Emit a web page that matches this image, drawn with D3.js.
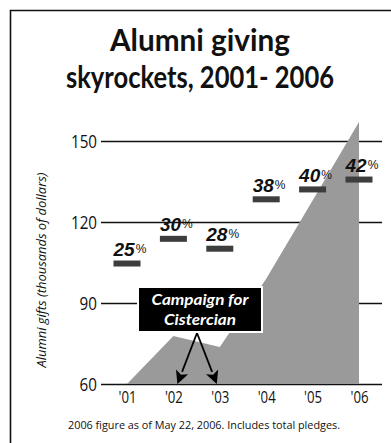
<!DOCTYPE html>
<html>
<head>
<meta charset="utf-8">
<script src="https://cdn.jsdelivr.net/npm/d3@7"></script>
<style>
  html, body { margin: 0; padding: 0; background: #fff; }
  svg { display: block; }
</style>
</head>
<body>
<svg id="chart" width="391" height="443"></svg>
<script>
// Years, tick labels and the two series
const years = [2001, 2002, 2003, 2004, 2005, 2006];
const yearLabels = ["'01", "'02", "'03", "'04", "'05", "'06"];
const gifts = [60, 77.8, 73.7, 99, 128, 157];          // thousands of dollars
const participation = [25, 30, 28, 38, 40, 42];         // percent of alumni giving
const giftTicks = [60, 90, 120, 150];
const titleLines = ["Alumni giving", "skyrockets, 2001- 2006"];
const calloutLines = ["Campaign for", "Cistercian"];
const calloutYears = [2002, 2003];
const axisTitle = "Alumni gifts (thousands of dollars)";
const footnote = "2006 figure as of May 22, 2006. Includes total pledges.";

const svg = d3.select("#chart");
const FONT = '"Open Sans", "Noto Sans", "DejaVu Sans", sans-serif';
const TITLE_FONT = 'Lato, "Open Sans", "DejaVu Sans", sans-serif';

// Squeeze text horizontally to a condensed look (fixed width or a factor)
function fitWidth(sel, w) {
  sel.attr("textLength", w).attr("lengthAdjust", "spacingAndGlyphs");
}
function condense(sel, f) {
  sel.each(function () {
    const w = this.getComputedTextLength();
    this.setAttribute("textLength", w * f);
    this.setAttribute("lengthAdjust", "spacingAndGlyphs");
  });
}

// Frame along the top and left edges
svg.append("path")
  .attr("d", "M10.5,443V10.5H391")
  .attr("fill", "none").attr("stroke", "#111").attr("stroke-width", 1.6);

// Title
const titleWidths = [180, 268];
svg.append("g").selectAll("text").data(titleLines).join("text")
  .attr("x", 200).attr("y", (d, i) => 51 + i * 36.5)
  .attr("text-anchor", "middle")
  .attr("font-family", TITLE_FONT).attr("font-weight", "bold").attr("font-size", 30)
  .attr("fill", "#111")
  .text(d => d)
  .each(function (d, i) { fitWidth(d3.select(this), titleWidths[i]); });

// Scales
const x = d3.scaleLinear().domain([2001, 2006]).range([127, 359]);
const y = d3.scaleLinear().domain([60, 150]).range([384, 141]);
const pct = d3.scaleLinear().domain([0, 49.2]).range([384, 141]);
const gridLeft = 101, gridRight = 382;

// Horizontal grid lines with value labels
const yAxis = svg.append("g")
  .attr("transform", `translate(${gridLeft},0)`)
  .call(d3.axisLeft(y).tickValues(giftTicks).tickSize(-(gridRight - gridLeft)).tickPadding(4));
yAxis.select(".domain").remove();
yAxis.selectAll(".tick line").attr("stroke", "#111").attr("stroke-width", 1.3);
yAxis.selectAll(".tick text")
  .attr("font-family", FONT).attr("font-size", 19).attr("fill", "#111")
  .call(condense, 0.8);

// Year labels
const xAxis = svg.append("g")
  .attr("transform", `translate(0,${y(60)})`)
  .call(d3.axisBottom(x).tickValues(years).tickFormat((d, i) => yearLabels[i]).tickSize(0).tickPadding(7));
xAxis.select(".domain").remove();
xAxis.selectAll(".tick text")
  .attr("font-family", FONT).attr("font-size", 16.5).attr("fill", "#111")
  .call(condense, 0.8);

// Vertical axis title
svg.append("text")
  .attr("transform", "translate(46,270) rotate(-90)")
  .attr("text-anchor", "middle")
  .attr("font-family", FONT).attr("font-style", "italic").attr("font-size", 13.5)
  .attr("fill", "#111")
  .text(axisTitle)
  .call(fitWidth, 195);

// Gift totals as a gray area
const area = d3.area()
  .x((d, i) => x(years[i]))
  .y0(y(60))
  .y1(d => y(d));
svg.append("path")
  .datum(gifts)
  .attr("d", area)
  .attr("fill", "#9a9a9a");

// Participation markers with percentage labels
const barW = 27, barH = 6;
const marks = svg.append("g").selectAll("g").data(participation).join("g");
marks.append("rect")
  .attr("x", (d, i) => x(years[i]) - barW / 2)
  .attr("y", d => pct(d))
  .attr("width", barW).attr("height", barH)
  .attr("fill", "#3d3d3d");
const lbl = marks.append("text")
  .attr("x", (d, i) => x(years[i]) - barW / 2)
  .attr("y", d => pct(d) - 4.5)
  .attr("font-family", '"Liberation Sans", Arial, sans-serif')
  .attr("fill", "#111");
lbl.append("tspan")
  .attr("font-weight", "bold").attr("font-style", "italic").attr("font-size", 19)
  .text(d => d);
lbl.append("tspan")
  .attr("font-size", 12).attr("dy", -3).attr("dx", 1)
  .text("%");

// Campaign callout with arrows to the campaign years
const box = { x: 138, y: 287, w: 124, h: 45 };
const origin = [197, box.y + box.h + 1];
const callout = svg.append("g");
calloutYears.forEach(yr => {
  const tx = x(yr) + (x(yr) < origin[0] ? 4 : -3);
  const ty = y(60);
  const dx = tx - origin[0], dy = ty - origin[1];
  const len = Math.hypot(dx, dy), ux = dx / len, uy = dy / len;
  const headL = 13, headW = 6.5;
  const bx = tx - ux * headL, by = ty - uy * headL;
  callout.append("line")
    .attr("x1", origin[0]).attr("y1", origin[1])
    .attr("x2", bx).attr("y2", by)
    .attr("stroke", "#000").attr("stroke-width", 1.8);
  callout.append("path")
    .attr("d", `M${tx},${ty}L${bx - uy * headW},${by + ux * headW}L${bx + ux * 3},${by + uy * 3}L${bx + uy * headW},${by - ux * headW}Z`)
    .attr("fill", "#000");
});
callout.append("rect")
  .attr("x", box.x).attr("y", box.y).attr("width", box.w).attr("height", box.h)
  .attr("fill", "#000").attr("stroke", "#fff").attr("stroke-width", 2);
const calloutWidths = [97, 72];
callout.selectAll("text").data(calloutLines).join("text")
  .attr("x", box.x + box.w / 2).attr("y", (d, i) => 305 + i * 19.5)
  .attr("text-anchor", "middle")
  .attr("font-family", TITLE_FONT).attr("font-weight", "bold").attr("font-style", "italic").attr("font-size", 16)
  .attr("fill", "#fff")
  .text(d => d)
  .each(function (d, i) { fitWidth(d3.select(this), calloutWidths[i]); });

// Footnote
svg.append("text")
  .attr("x", 204).attr("y", 429)
  .attr("text-anchor", "middle")
  .attr("font-family", FONT).attr("font-size", 11.5)
  .attr("fill", "#111")
  .text(footnote)
  .call(fitWidth, 272);
</script>
</body>
</html>
